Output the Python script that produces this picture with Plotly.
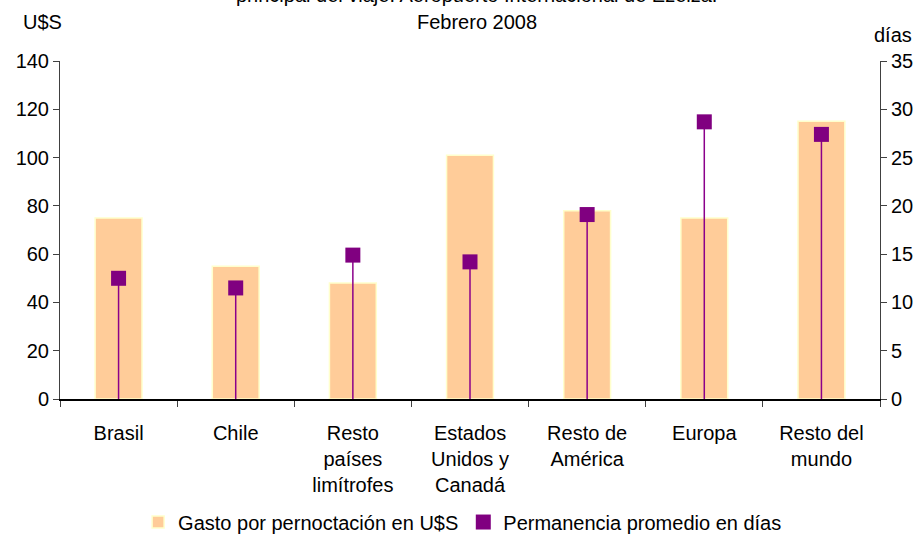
import plotly.graph_objects as go

categories = ["Brasil", "Chile", "Resto<br>países<br>limítrofes", "Estados<br>Unidos y<br>Canadá",
              "Resto de<br>América", "Europa", "Resto del<br>mundo"]
gasto_usd = [75, 55, 48, 101, 78, 75, 115]
permanencia_dias = [12.5, 11.5, 14.9, 14.2, 19.1, 28.7, 27.4]

FONT = "Liberation Sans, Arial, sans-serif"
fig = go.Figure()

fig.add_trace(go.Bar(
    x=categories, y=gasto_usd, name="Gasto por pernoctación en U$S",
    width=0.40, marker=dict(color="#FFCC99", line=dict(color="#FFFFCC", width=1.5)),
))
fig.add_trace(go.Scatter(
    x=categories, y=permanencia_dias, name="Permanencia promedio en días",
    yaxis="y2", mode="markers",
    marker=dict(symbol="square", size=15, color="#800080"),
    error_y=dict(type="data", symmetric=False, array=[0]*len(permanencia_dias),
                 arrayminus=permanencia_dias, width=0, thickness=1.5, color="#8B008B"),
))

fig.update_layout(
    width=924, height=535,
    margin=dict(l=60, r=44, t=61, b=136, autoexpand=False),
    plot_bgcolor="white", paper_bgcolor="white",
    font=dict(family=FONT, size=20, color="black"),
    showlegend=True,
    legend=dict(orientation="h", x=0.491, xanchor="center", y=-0.364, yanchor="middle",
                font=dict(size=20), itemwidth=30, tracegroupgap=0, bgcolor="rgba(0,0,0,0)"),
    xaxis=dict(type="category", range=[-0.5, 6.5], showline=True, linecolor="black", linewidth=1.5,
               ticks="outside", ticklen=6, tickcolor="#404040", tickson="boundaries",
               ticklabelstandoff=15, showgrid=False, zeroline=False, automargin=False),
    yaxis=dict(range=[0, 140], dtick=20, showline=True, linecolor="#404040", linewidth=1,
               ticks="outside", ticklen=6, tickcolor="#404040", showgrid=False, zeroline=False,
               automargin=False),
    yaxis2=dict(range=[0, 35], dtick=5, overlaying="y", side="right", showline=True,
                linecolor="#404040", linewidth=1, ticks="outside", ticklen=6, tickcolor="#404040",
                showgrid=False, zeroline=False, automargin=False),
    bargap=0.6,
)

fig.add_annotation(text="principal del viaje. Aeropuerto Internacional de Ezeiza.",
                   xref="paper", yref="paper", x=0.508, y=1.195, yanchor="middle",
                   showarrow=False, font=dict(size=20))
fig.add_annotation(text="Febrero 2008", xref="paper", yref="paper", x=0.508, y=1.115,
                   yanchor="middle", showarrow=False, font=dict(size=20))
fig.add_annotation(text="U$S", xref="paper", yref="paper", x=-0.021, y=1.115,
                   xanchor="center", yanchor="middle", showarrow=False, font=dict(size=20))
fig.add_annotation(text="días", xref="paper", yref="paper", x=1.016, y=1.077,
                   xanchor="center", yanchor="middle", showarrow=False, font=dict(size=20))

fig.write_html("out.html", config={"displayModeBar": False},
               post_script="document.body.style.margin='0';document.body.style.overflow='hidden';")
